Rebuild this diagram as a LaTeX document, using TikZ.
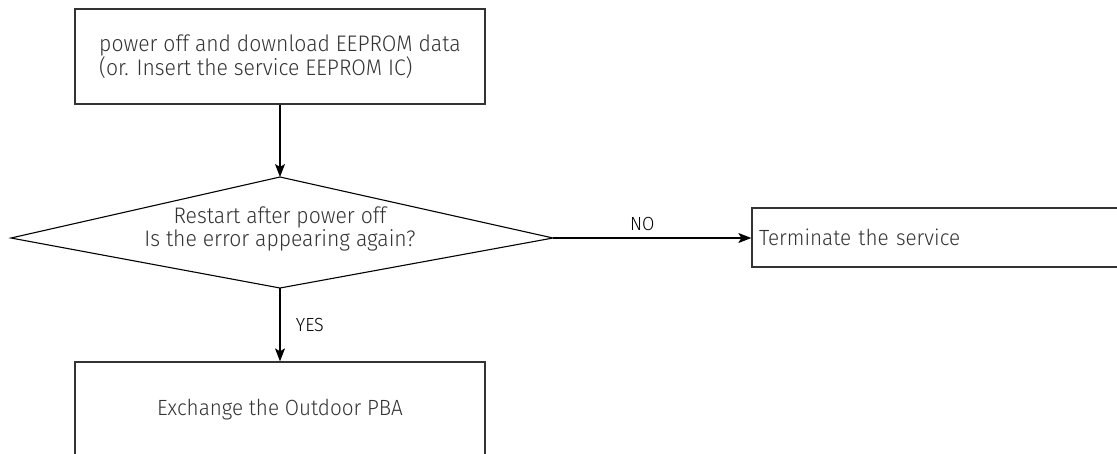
\documentclass[tikz,border=0pt]{standalone}
\usepackage{fontspec}
\setmainfont{Fira Sans Light}[FakeStretch=0.94]
\usetikzlibrary{positioning,arrows.meta}
\definecolor{ink}{HTML}{333333}

\begin{document}
\begin{tikzpicture}[x=1pt,y=-1pt,
  font=\fontsize{22.5}{21}\selectfont,
  box/.style={draw=ink,rectangle,line width=1.3pt,text=ink,minimum width=410pt,minimum height=95pt,inner sep=0pt},
  arrow/.style={-{Stealth[length=13pt,width=10pt,inset=3pt]},draw=black,line width=1.2pt},
  label/.style={text=black,font=\fontsize{19}{20}\selectfont}]
  \useasboundingbox (0,0) rectangle (1117,453);
  \node[box,align=left] (download) at (280,56.5) {power off and download EEPROM data\\(or. Insert the service EEPROM IC)};
  % decision, drawn from its four corners
  \coordinate (dtop) at (280,177);
  \coordinate (dbot) at (280,288);
  \coordinate (dleft) at (11,238);
  \coordinate (dright) at (553,238);
  \draw[draw=black,line width=1.1pt] (dtop) -- (dright) -- (dbot) -- (dleft) -- cycle;
  \node[text=ink,align=center] (check) at (280,229) {Restart after power off\\Is the error appearing again?};
  \node[box,minimum width=373pt,minimum height=59pt,text width=359pt,align=left,inner xsep=7pt,font=\fontsize{22}{21}\selectfont] (terminate) at (938.5,237.5) {Terminate the service};
  \node[box,font=\fontsize{22}{21}\selectfont] (exchange) at (280,409.5) {Exchange the Outdoor PBA};
  \draw[arrow] (download) -- (dtop);
  \draw[arrow] (dright) -- (dright -| terminate.west) node[label,pos=0.45,above=3pt] {NO};
  \draw[arrow] (dbot) -- (exchange.north) node[label,midway,right=12pt] {YES};
\end{tikzpicture}
\end{document}
